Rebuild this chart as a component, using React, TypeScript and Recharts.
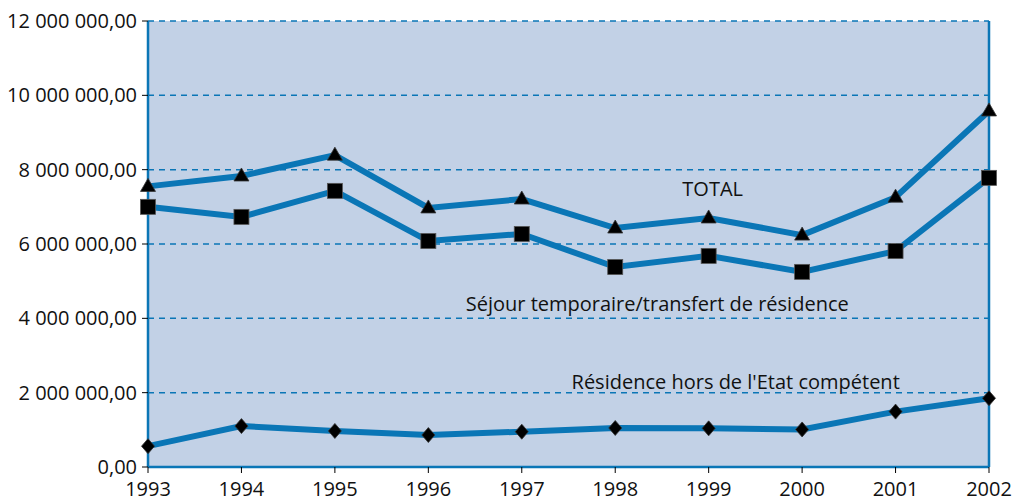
import { CartesianGrid, Line, LineChart, ReferenceDot, ReferenceLine, XAxis, YAxis } from 'recharts'

const YEARS = ['1993', '1994', '1995', '1996', '1997', '1998', '1999', '2000', '2001', '2002']

const TOTAL = [7550000, 7830000, 8390000, 6970000, 7210000, 6430000, 6700000, 6240000, 7260000, 9580000]
const SEJOUR = [7000000, 6730000, 7430000, 6080000, 6270000, 5380000, 5680000, 5250000, 5810000, 7780000]
const RESIDENCE = [560000, 1100000, 970000, 860000, 950000, 1050000, 1040000, 1010000, 1490000, 1850000]

const Y_TICKS = [0, 2000000, 4000000, 6000000, 8000000, 10000000, 12000000]

const LINE_COLOR = '#0a76b6'
const BG_COLOR = '#c2d1e6'
const FONT = '"Open Sans", "Noto Sans", sans-serif'

const chartData = YEARS.map((year, i) => ({
  year,
  total: TOTAL[i],
  sejour: SEJOUR[i],
  residence: RESIDENCE[i],
}))

function formatTick(value: number): string {
  const whole = Math.round(value)
    .toString()
    .replace(/\B(?=(\d{3})+(?!\d))/g, ' ')
  return `${whole},00`
}

function TriangleDot(props: any) {
  const { cx, cy } = props
  if (cx == null || cy == null) return null
  return (
    <path
      d={`M${cx},${cy - 8} L${cx + 7.5},${cy + 5} L${cx - 7.5},${cy + 5} Z`}
      fill="#000"
      stroke="#333"
      strokeWidth={0.8}
    />
  )
}

function SquareDot(props: any) {
  const { cx, cy } = props
  if (cx == null || cy == null) return null
  return <rect x={cx - 7.5} y={cy - 7.5} width={15} height={15} fill="#000" stroke="#555" strokeWidth={0.8} />
}

function DiamondDot(props: any) {
  const { cx, cy } = props
  if (cx == null || cy == null) return null
  return (
    <path
      d={`M${cx},${cy - 7.5} L${cx + 6.5},${cy} L${cx},${cy + 7.5} L${cx - 6.5},${cy} Z`}
      fill="#000"
      stroke="#333"
      strokeWidth={0.8}
    />
  )
}

function SeriesLabel({ text, dx }: { text: string; dx: number }) {
  return (props: any) => {
    const { viewBox } = props
    const x = viewBox.x + dx
    const y = viewBox.y
    return (
      <text x={x} y={y} textAnchor="middle" dominantBaseline="central" fontFamily={FONT} fontSize={20} fill="#111">
        {text}
      </text>
    )
  }
}

function App() {
  return (
    <div style={{ position: 'absolute', left: 0, top: 0, background: '#fff' }}>
      <LineChart width={1018} height={501} data={chartData} margin={{ top: 21, right: 29, bottom: 0, left: 0 }}>
        <CartesianGrid
          vertical={false}
          fill={BG_COLOR}
          stroke={LINE_COLOR}
          strokeWidth={1.5}
          strokeDasharray="6 5"
          strokeOpacity={1}
        />
        <XAxis
          dataKey="year"
          height={34}
          padding={{ left: 0, right: 0 }}
          axisLine={{ stroke: LINE_COLOR, strokeWidth: 2.5 }}
          tickLine={{ stroke: '#000', strokeWidth: 1 }}
          tickSize={6}
          tickMargin={9}
          tick={{ fill: '#111', fontSize: 20, fontFamily: FONT }}
          interval={0}
        />
        <YAxis
          width={148}
          domain={[0, 12000000]}
          ticks={Y_TICKS}
          tickFormatter={formatTick}
          axisLine={{ stroke: LINE_COLOR, strokeWidth: 2.5 }}
          tickLine={{ stroke: '#000', strokeWidth: 1 }}
          tickSize={6}
          tickMargin={5}
          tick={{ fill: '#111', fontSize: 20, fontFamily: FONT }}
          interval={0}
        />
        <ReferenceLine x="2002" stroke={LINE_COLOR} strokeWidth={2.5} />
        <Line
          dataKey="total"
          stroke={LINE_COLOR}
          strokeWidth={6}
          dot={<TriangleDot />}
          activeDot={false}
          isAnimationActive={false}
        />
        <Line
          dataKey="sejour"
          stroke={LINE_COLOR}
          strokeWidth={6}
          dot={<SquareDot />}
          activeDot={false}
          isAnimationActive={false}
        />
        <Line
          dataKey="residence"
          stroke={LINE_COLOR}
          strokeWidth={6}
          dot={<DiamondDot />}
          activeDot={false}
          isAnimationActive={false}
        />
        <ReferenceDot x="1999" y={7500000} r={0} label={SeriesLabel({ text: 'TOTAL', dx: 4 })} />
        <ReferenceDot
          x="1998"
          y={4400000}
          r={0}
          label={SeriesLabel({ text: 'Séjour temporaire/transfert de résidence', dx: 42 })}
        />
        <ReferenceDot
          x="1999"
          y={2300000}
          r={0}
          label={SeriesLabel({ text: "Résidence hors de l'Etat compétent", dx: 27 })}
        />
      </LineChart>
    </div>
  )
}

export default App
